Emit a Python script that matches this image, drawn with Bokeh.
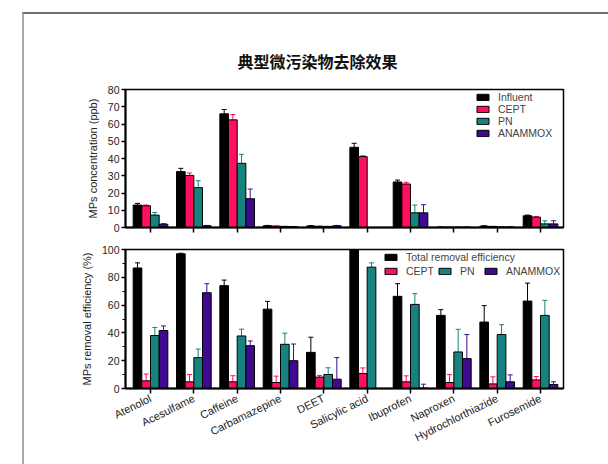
from bokeh.plotting import figure
from bokeh.models import (ColumnDataSource, Whisker, TeeHead, FixedTicker, SingleIntervalTicker,
                          Legend, LegendItem, Range1d)
from bokeh.layouts import column
from bokeh.embed import file_html
from bokeh.resources import INLINE

categories = ["Atenolol", "Acesulfame", "Caffeine", "Carbamazepine", "DEET",
              "Salicylic acid", "Ibuprofen", "Naproxen", "Hydrochlorthiazide", "Furosemide"]

# Top panel: MPs concentration (ppb)
conc_influent = [13.0, 32.4, 65.9, 1.0, 0.9, 46.5, 26.4, 0.2, 0.8, 6.8]
conc_influent_err = [1.0, 1.9, 2.5, 0.2, 0.2, 2.3, 1.1, 0.1, 0.2, 0.4]
conc_cept = [12.6, 30.2, 62.4, 0.8, 0.7, 41.1, 25.2, 0.2, 0.6, 6.0]
conc_cept_err = [0.4, 1.4, 3.1, 0.1, 0.1, 0.5, 1.0, 0.1, 0.1, 0.4]
conc_pn = [7.2, 23.1, 37.2, 0.6, 0.6, 0.0, 8.5, 0.2, 0.3, 2.1]
conc_pn_err = [1.5, 4.0, 5.2, 0.1, 0.1, 0.0, 4.5, 0.1, 0.1, 1.8]
conc_anammox = [1.9, 1.0, 16.7, 0.5, 1.0, 0.0, 8.5, 0.2, 0.3, 2.1]
conc_anammox_err = [0.3, 0.2, 5.6, 0.1, 0.2, 0.0, 4.7, 0.1, 0.1, 1.8]

# Bottom panel: MPs removal efficiency (%)
eff_total = [86.7, 96.9, 74.0, 57.1, 26.0, 100.0, 66.3, 52.6, 47.8, 62.9]
eff_total_err = [3.7, 0.4, 4.0, 5.6, 10.9, 0.0, 9.1, 4.1, 11.8, 12.9]
eff_cept = [5.5, 4.8, 4.8, 4.3, 8.2, 10.8, 4.8, 4.3, 3.3, 6.2]
eff_cept_err = [4.9, 5.3, 4.4, 4.6, 1.2, 4.0, 4.3, 5.7, 5.1, 2.4]
eff_pn = [38.1, 22.2, 37.8, 31.8, 10.1, 87.3, 60.5, 26.3, 38.8, 52.6]
eff_pn_err = [5.8, 6.2, 4.9, 8.0, 4.8, 3.1, 7.7, 16.3, 7.1, 10.8]
eff_anammox = [41.7, 68.9, 30.8, 20.0, 6.7, 0.0, 0.3, 21.5, 4.8, 2.9]
eff_anammox_err = [3.3, 6.5, 3.4, 12.0, 15.5, 0.0, 2.8, 17.3, 5.0, 1.9]

BLACK = "#000000"
PINK = "#FF0F5F"
TEAL = "#17827E"
PURPLE = "#3F0A8F"
FONT = "Liberation Sans"
offsets = [-0.3, -0.1, 0.1, 0.3]
BAR_W = 0.2


def add_bars(p, vals, errs, offset, color):
    xs = [i + offset for i in range(len(vals))]
    src = ColumnDataSource(dict(x=xs, top=vals))
    r = p.vbar(x="x", top="top", width=BAR_W, source=src, fill_color=color,
               line_color="black", line_width=1)
    wx, wl, wu = [], [], []
    for x, v, e in zip(xs, vals, errs):
        if e > 0:
            wx.append(x); wl.append(v); wu.append(v + e)
    wsrc = ColumnDataSource(dict(x=wx, lower=wl, upper=wu))
    w = Whisker(base="x", lower="lower", upper="upper", source=wsrc, line_color=color,
                line_width=1, lower_head=None,
                upper_head=TeeHead(size=5, line_color=color, line_width=1))
    p.add_layout(w)
    return r


def style(p, ylabel):
    p.outline_line_color = "black"
    p.outline_line_width = 1.5
    p.xgrid.grid_line_color = None
    p.ygrid.grid_line_color = None
    p.background_fill_color = "white"
    p.border_fill_color = "white"
    for ax in (p.xaxis[0], p.yaxis[0]):
        ax.axis_line_width = 2
        ax.axis_line_color = "black"
        ax.major_tick_line_width = 1.5
        ax.major_tick_line_color = "black"
        ax.major_tick_in = 0
        ax.major_tick_out = 4
        ax.major_label_text_font = FONT
        ax.major_label_text_font_size = "10.5px"
        ax.major_label_text_color = "#222222"
        ax.major_label_standoff = 2
    p.xaxis.minor_tick_line_color = None
    p.xaxis.ticker = FixedTicker(ticks=list(range(len(categories))))
    p.xaxis.major_tick_out = 5
    p.yaxis.axis_label = ylabel
    p.yaxis.axis_label_text_font = FONT
    p.yaxis.axis_label_text_font_style = "normal"
    p.yaxis.axis_label_text_font_size = "11px"
    p.yaxis.axis_label_text_color = "#222222"
    p.yaxis.axis_label_standoff = 6


W = 584
top = figure(width=W, height=228, output_backend="svg", toolbar_location=None,
             x_range=Range1d(-0.577, 9.53), y_range=Range1d(0, 80),
             min_border_left=101, min_border_right=45, min_border_top=75, min_border_bottom=15,
             title="典型微污染物去除效果")
top.title.text_font = "Noto Sans CJK SC"
top.title.text_font_size = "16px"
top.title.text_font_style = "bold"
top.title.text_color = "#111111"
top.title.align = "left"
top.title.offset = 112
top.title.standoff = 34
style(top, "MPs concentration (ppb)")
top.yaxis.ticker = SingleIntervalTicker(interval=10, num_minor_ticks=0)
top.xaxis.major_label_overrides = {i: "" for i in range(len(categories))}
top.xaxis.major_label_text_font_size = "2px"
top.xaxis.major_label_standoff = 0

r1 = add_bars(top, conc_influent, conc_influent_err, offsets[0], BLACK)
r2 = add_bars(top, conc_cept, conc_cept_err, offsets[1], PINK)
r3 = add_bars(top, conc_pn, conc_pn_err, offsets[2], TEAL)
r4 = add_bars(top, conc_anammox, conc_anammox_err, offsets[3], PURPLE)

leg_kw = dict(padding=0, margin=0, spacing=0, glyph_height=8, glyph_width=15,
              label_standoff=8, label_text_font=FONT, label_text_font_size="10.5px",
              label_height=11, border_line_color=None, background_fill_alpha=0)
leg_top = Legend(items=[LegendItem(label="Influent", renderers=[r1]),
                        LegendItem(label="CEPT", renderers=[r2]),
                        LegendItem(label="PN", renderers=[r3]),
                        LegendItem(label="ANAMMOX", renderers=[r4])],
                 location=(350, 88), orientation="vertical", **leg_kw)
top.add_layout(leg_top)

bot = figure(width=W, height=222, output_backend="svg", toolbar_location=None,
             x_range=Range1d(-0.577, 9.53), y_range=Range1d(0, 100),
             min_border_left=101, min_border_right=45, min_border_top=7, min_border_bottom=76)
style(bot, "MPs removal efficiency (%)")
bot.yaxis.ticker = SingleIntervalTicker(interval=20, num_minor_ticks=2)
bot.yaxis.minor_tick_line_color = "black"
bot.yaxis.minor_tick_line_width = 1.2
bot.yaxis.minor_tick_in = 0
bot.yaxis.minor_tick_out = 3
bot.xaxis.major_label_overrides = {i: c for i, c in enumerate(categories)}
bot.xaxis.major_label_orientation = 0.46
bot.xaxis.major_label_text_font_size = "11px"
bot.xaxis.major_label_standoff = 4

b1 = add_bars(bot, eff_total, eff_total_err, offsets[0], BLACK)
b2 = add_bars(bot, eff_cept, eff_cept_err, offsets[1], PINK)
b3 = add_bars(bot, eff_pn, eff_pn_err, offsets[2], TEAL)
b4 = add_bars(bot, eff_anammox, eff_anammox_err, offsets[3], PURPLE)

leg_b1 = Legend(items=[LegendItem(label="Total removal efficiency", renderers=[b1])],
                location=(258, 125), orientation="vertical", **leg_kw)
kw2 = dict(leg_kw); kw2["spacing"] = 3
leg_b2 = Legend(items=[LegendItem(label="CEPT", renderers=[b2]),
                       LegendItem(label="PN", renderers=[b3]),
                       LegendItem(label="ANAMMOX", renderers=[b4])],
                location=(258, 111), orientation="horizontal", **kw2)
bot.add_layout(leg_b1)
bot.add_layout(leg_b2)

layout = column(top, bot, margin=(12, 0, 0, 22),
                styles={"border-top": "2px solid #6e6e6e", "border-left": "2px solid #a8a8a8"})

with open("out.html", "w") as f:
    f.write(file_html(layout, INLINE))
